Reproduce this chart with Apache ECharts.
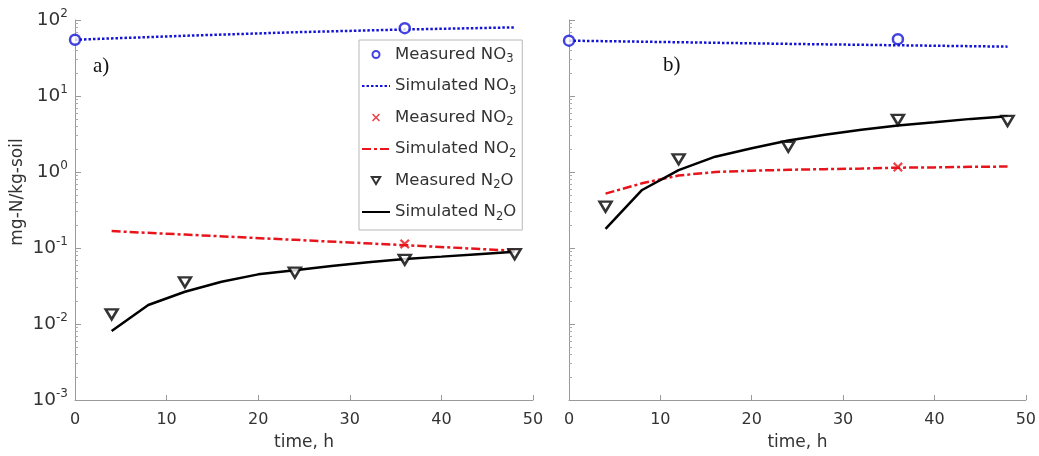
<!DOCTYPE html>
<html>
<head>
<meta charset="utf-8">
<script src="https://cdn.jsdelivr.net/npm/echarts@6/dist/echarts.min.js"></script>
<style>html,body{margin:0;padding:0;background:#fff}#c{width:1039px;height:456px}</style>
</head>
<body>
<div id="c"></div>
<script>
// ---- data ----
const xTicks = [0, 10, 20, 30, 40, 50];
const yExponents = ['-3', '-2', '-1', '0', '1', '2'];

// panel a)
const measNO3TimeA = [0, 36];
const measNO3A = [55, 78];
const simNO3TimeA = [0, 12, 24, 36, 48];
const simNO3A = [55, 62, 69, 75, 80];
const measNO2TimeA = [36];
const measNO2A = [0.113];
const simNO2TimeA = [4, 12, 24, 36, 48];
const simNO2A = [0.167, 0.150, 0.128, 0.109, 0.092];
const measN2OTimeA = [4, 12, 24, 36, 48];
const measN2OA = [0.0134, 0.0354, 0.0473, 0.070, 0.083];
const simN2OTimeA = [4, 8, 12, 16, 20, 24, 28, 32, 36, 40, 44, 48];
const simN2OA = [0.0081, 0.0178, 0.0266, 0.036, 0.045, 0.051, 0.058, 0.065, 0.0716, 0.077, 0.083, 0.089];

// panel b)
const measNO3TimeB = [0, 36];
const measNO3B = [53.5, 56];
const simNO3TimeB = [0, 12, 24, 36, 48];
const simNO3B = [53.5, 51, 48.5, 46.5, 44.6];
const measNO2TimeB = [36];
const measNO2B = [1.16];
const simNO2TimeB = [4, 8, 12, 16, 20, 24, 28, 32, 36, 40, 44, 48];
const simNO2B = [0.52, 0.71, 0.90, 1.0, 1.04, 1.07, 1.09, 1.11, 1.14, 1.15, 1.17, 1.18];
const measN2OTimeB = [4, 12, 24, 36, 48];
const measN2OB = [0.35, 1.47, 2.15, 4.85, 4.7];
const simN2OTimeB = [4, 8, 12, 16, 20, 24, 28, 32, 36, 40, 44, 48];
const simN2OB = [0.178, 0.58, 1.06, 1.59, 2.05, 2.6, 3.1, 3.6, 4.1, 4.5, 5.0, 5.4];

const names = ['Measured NO3', 'Simulated NO3', 'Measured NO2', 'Simulated NO2', 'Measured N2O', 'Simulated N2O'];
const legendRich = {
  'Measured NO3': '{n|Measured NO}{s|3}',
  'Simulated NO3': '{n|Simulated NO}{s|3}',
  'Measured NO2': '{n|Measured NO}{s|2}',
  'Simulated NO2': '{n|Simulated NO}{s|2}',
  'Measured N2O': '{n|Measured N}{s|2}{n|O}',
  'Simulated N2O': '{n|Simulated N}{s|2}{n|O}'
};

// minor tick positions of the log axis (in decades, for an overlay value axis)
const minorTicksLog = [];
[-3, -2, -1, 0, 1].forEach(k => { for (let m = 2; m <= 9; m++) minorTicksLog.push(k + Math.log10(m)); });

// ---- styling ----
const FONT = 'DejaVu Sans';
const BLUE = '#1414d8';
const RED = '#e8141c';
const BLACK = '#000000';
const AXIS = '#9a9a9a';
const TEXT = '#333333';
const xMark = 'path://M0,1.6L1.6,0L5,3.4L8.4,0L10,1.6L6.6,5L10,8.4L8.4,10L5,6.6L1.6,10L0,8.4L3.4,5Z';
// legend icons drawn inside a 28x12 box (corner moves fix the box)
const BOX = 'M0,0M28,12';
const iconCircle = 'path://' + BOX + 'M10.5,6A3.5,3.5,0,1,0,17.5,6A3.5,3.5,0,1,0,10.5,6Z';
const iconCross = 'path://' + BOX + 'M10,3.1L11.1,2L14,4.9L16.9,2L18,3.1L15.1,6L18,8.9L16.9,10L14,7.1L11.1,10L10,8.9L12.9,6Z';
const iconTri = 'path://' + BOX + 'M9.8,2.6L18.2,2.6L14,9.6Z';
const hidden = { color: 'rgba(0,0,0,0)', borderColor: 'rgba(0,0,0,0)', borderWidth: 0 };

const zip = (xs, ys) => xs.map((x, i) => [x, ys[i]]);

const grids = [
  { left: 75, top: 20, width: 458, height: 380 },
  { left: 569, top: 20, width: 458, height: 380 }
];

function xAxis(gi) {
  return {
    type: 'value', gridIndex: gi, min: 0, max: 50, interval: 10, position: 'bottom',
    name: 'time, h', nameLocation: 'middle', nameGap: 34,
    nameTextStyle: { fontFamily: FONT, fontSize: 17, color: TEXT },
    axisLine: { show: true, onZero: false, lineStyle: { color: AXIS, width: 1 } },
    axisTick: { show: true, inside: true, length: 5, lineStyle: { color: AXIS } },
    axisLabel: { show: true, margin: 12, fontFamily: FONT, fontSize: 16, color: TEXT,
      formatter: v => String(xTicks[xTicks.indexOf(v)]) },
    splitLine: { show: false }
  };
}
function yMain(gi, showLabels) {
  return {
    type: 'log', logBase: 10, gridIndex: gi, min: 0.001, max: 100, position: 'left',
    axisLine: { show: true, onZero: false, lineStyle: { color: AXIS, width: 1 } },
    axisTick: { show: true, inside: true, length: 6, lineStyle: { color: AXIS } },
    axisLabel: {
      show: showLabels, margin: 7, color: TEXT,
      formatter: v => '{b|10}{e|' + yExponents[Math.round(Math.log10(v)) + 3] + '}',
      rich: {
        b: { fontFamily: FONT, fontSize: 18.5, color: TEXT, lineHeight: 24 },
        e: { fontFamily: FONT, fontSize: 12, color: TEXT, lineHeight: 12, verticalAlign: 'top' }
      }
    },
    splitLine: { show: false }
  };
}
function yMinor(gi) {
  return {
    type: 'value', gridIndex: gi, min: -3, max: 2, position: 'left', offset: 0,
    axisLine: { show: false, onZero: false },
    axisTick: { show: true, inside: true, length: 3, customValues: minorTicksLog, lineStyle: { color: '#aaaaaa' } },
    axisLabel: { show: false },
    splitLine: { show: false }
  };
}

function panelSeries(xi, yi, d) {
  return [
    { name: names[0], type: 'scatter', xAxisIndex: xi, yAxisIndex: yi, data: zip(d.mt3, d.m3),
      symbol: 'circle', symbolSize: 10, z: 5,
      itemStyle: { color: '#ffffff', borderColor: BLUE, borderWidth: 2.5 } },
    { name: names[1], type: 'line', xAxisIndex: xi, yAxisIndex: yi, data: zip(d.st3, d.s3),
      symbol: 'none', lineStyle: { color: BLUE, width: 2.5, type: [2.5, 2] }, itemStyle: { color: BLUE } },
    { name: names[2], type: 'scatter', xAxisIndex: xi, yAxisIndex: yi, data: zip(d.mt2, d.m2),
      symbol: xMark, symbolSize: 10, z: 5, itemStyle: { color: RED } },
    { name: names[3], type: 'line', xAxisIndex: xi, yAxisIndex: yi, data: zip(d.st2, d.s2),
      symbol: 'none', lineStyle: { color: RED, width: 2.5, type: [9, 3, 3, 3] }, itemStyle: { color: RED } },
    { name: names[4], type: 'scatter', xAxisIndex: xi, yAxisIndex: yi, data: zip(d.mtn, d.mn),
      symbol: 'triangle', symbolRotate: 180, symbolSize: [12, 10], z: 5,
      itemStyle: { color: '#ffffff', borderColor: BLACK, borderWidth: 2.5 } },
    { name: names[5], type: 'line', xAxisIndex: xi, yAxisIndex: yi, data: zip(d.stn, d.sn),
      symbol: 'none', lineStyle: { color: BLACK, width: 2.5, type: 'solid' }, itemStyle: { color: BLACK } }
  ];
}

const chart = echarts.init(document.getElementById('c'), null, { renderer: 'canvas' });
chart.setOption({
  animation: false,
  backgroundColor: '#ffffff',
  grid: grids,
  xAxis: [xAxis(0), xAxis(1)],
  yAxis: [yMain(0, true), yMinor(0), yMain(1, false), yMinor(1)],
  legend: {
    data: [
      { name: names[0], icon: iconCircle },
      { name: names[1], itemStyle: hidden },
      { name: names[2], icon: iconCross },
      { name: names[3], itemStyle: hidden },
      { name: names[4], icon: iconTri },
      { name: names[5], itemStyle: hidden }
    ],
    orient: 'vertical', left: 359, top: 40,
    backgroundColor: '#ffffff', borderColor: '#b8b8b8', borderWidth: 1,
    padding: [6, 6, 7, 2], itemGap: 12, itemWidth: 28, itemHeight: 12,
    selectedMode: false,
    formatter: n => legendRich[n],
    textStyle: {
      rich: {
        n: { fontFamily: FONT, fontSize: 16.5, color: TEXT, lineHeight: 22 },
        s: { fontFamily: FONT, fontSize: 11.5, color: TEXT, lineHeight: 12, verticalAlign: 'bottom' }
      }
    }
  },
  graphic: [
    { type: 'text', left: 93, top: 56, style: { text: 'a)', font: '21px "Liberation Serif"', fill: '#111' } },
    { type: 'text', left: 663, top: 55, style: { text: 'b)', font: '21px "Liberation Serif"', fill: '#111' } },
    { type: 'text', x: 18, y: 192, rotation: Math.PI / 2,
      style: { text: 'mg-N/kg-soil', font: '17px "DejaVu Sans"', fill: TEXT, align: 'center', verticalAlign: 'middle' } }
  ],
  series: [
    ...panelSeries(0, 0, { mt3: measNO3TimeA, m3: measNO3A, st3: simNO3TimeA, s3: simNO3A,
      mt2: measNO2TimeA, m2: measNO2A, st2: simNO2TimeA, s2: simNO2A,
      mtn: measN2OTimeA, mn: measN2OA, stn: simN2OTimeA, sn: simN2OA }),
    ...panelSeries(1, 2, { mt3: measNO3TimeB, m3: measNO3B, st3: simNO3TimeB, s3: simNO3B,
      mt2: measNO2TimeB, m2: measNO2B, st2: simNO2TimeB, s2: simNO2B,
      mtn: measN2OTimeB, mn: measN2OB, stn: simN2OTimeB, sn: simN2OB })
  ]
});
</script>
</body>
</html>
